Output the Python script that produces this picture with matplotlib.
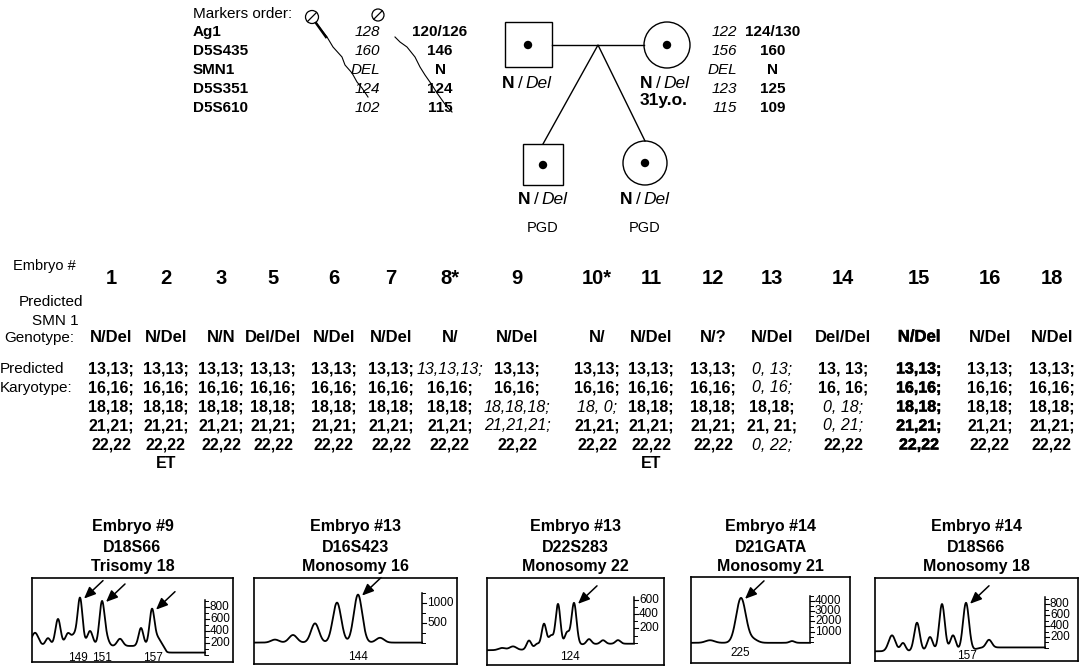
import numpy as np
import matplotlib.pyplot as plt
from matplotlib.patches import Rectangle, Circle
from matplotlib.transforms import offset_copy
import matplotlib.patheffects as pe

plt.rcParams['font.family'] = ['Liberation Sans', 'DejaVu Sans']

# ----------------------------
# DATA
# ----------------------------
markers = ["Ag1", "D5S435", "SMN1", "D5S351", "D5S610"]
father_a = ["128", "160", "DEL", "124", "102"]
father_b = ["120/126", "146", "N", "124", "115"]
mother_a = ["122", "156", "DEL", "123", "115"]
mother_b = ["124/130", "160", "N", "125", "109"]

embryos = ["1", "2", "3", "5", "6", "7", "8*", "9", "10*", "11", "12",
           "13", "14", "15", "16", "18"]
genotypes = ["N/Del", "N/Del", "N/N", "Del/Del", "N/Del", "N/Del", "N/",
             "N/Del", "N/", "N/Del", "N/?", "N/Del", "Del/Del", "N/Del",
             "N/Del", "N/Del"]
normal = ["13,13;", "16,16;", "18,18;", "21,21;", "22,22"]
karyotypes = [normal] * 6 + [
    ["13,13,13;", "16,16;", "18,18;", "21,21;", "22,22"],
    ["13,13;", "16,16;", "18,18,18;", "21,21,21;", "22,22"],
    ["13,13;", "16,16;", "18, 0;", "21,21;", "22,22"],
    normal,
    normal,
    ["0, 13;", "0, 16;", "18,18;", "21, 21;", "0, 22;"],
    ["13, 13;", "16, 16;", "0, 18;", "0, 21;", "22,22"],
    normal,
    normal,
    normal,
]
transferred = ["2", "11"]
heavy = ["15"]

# electropherograms: peaks are (scan position, height RFU, width)
panel_titles = [
    ["Embryo #9", "D18S66", "Trisomy 18"],
    ["Embryo #13", "D16S423", "Monosomy 16"],
    ["Embryo #13", "D22S283", "Monosomy 22"],
    ["Embryo #14", "D21GATA", "Monosomy 21"],
    ["Embryo #14", "D18S66", "Monosomy 18"],
]
panel_peaks = [
    [(3, 220, 3.5), (16, 130, 2.5), (26, 450, 2.6), (36, 210, 2.8), (42, 150, 2.4),
     (48, 800, 2.5), (58, 250, 2.8), (70, 740, 2.6), (75, 90, 2.4),
     (88, 120, 2.8), (109, 300, 2.4), (120, 610, 2.5), (126, 120, 2.8)],
    [(21, 75, 4), (39, 190, 4), (61, 480, 4), (83, 1000, 4.2), (104, 1200, 4.2),
     (126, 120, 4)],
    [(15, 30, 3.5), (26, 50, 3.5), (42, 125, 2.4), (50, 70, 2.4), (57, 340, 2.4),
     (64, 160, 2.4), (71, 590, 2.4), (80, 180, 2.4), (87, 580, 2.5), (102, 70, 2.4),
     (116, 50, 2.5), (131, 50, 2.5)],
    [(19, 250, 4.5), (50, 4350, 4.8), (62, 330, 4.5), (101, 170, 2.5)],
    [(17, 290, 3.4), (28, 150, 2.5), (42, 520, 2.8), (55, 260, 2.8),
     (67, 860, 2.8), (78, 290, 2.8), (91, 880, 3.0), (114, 140, 2.8)],
]
# baseline: left level, right level, step position, step width
panel_baseline = [
    (150, 40, 133, 2),
    (10, 10, 100, 10),
    (-100, -10, 70, 25),
    (-80, -80, 100, 10),
    (-60, 10, 100, 6),
]
panel_sizes = [
    [(46, "149"), (70, "151"), (121, "157")],
    [(104, "144")],
    [(83, "124")],
    [(49, "225")],
    [(92, "157")],
]
panel_arrows = [[48, 70, 120], [104], [87], [50], [91]]
panel_ticks = [
    (200, 100, 800, 920),
    (500, 250, 1000, 1250),
    (200, 100, 600, 640),
    (1000, 500, 4000, 4500),
    (200, 100, 800, 920),
]

# ----------------------------
# LAYOUT
# ----------------------------
W, H = 1080, 666
fig = plt.figure(figsize=(W / 100, H / 100), dpi=100)
ax = fig.add_axes([0, 0, 1, 1])
ax.set_xlim(0, W)
ax.set_ylim(H, 0)
ax.axis("off")
renderer = fig.canvas.get_renderer()

marker_y = [32, 51, 70, 89, 108]
col_x = [111, 166, 221, 273, 334, 391, 450, 517, 597, 651, 713, 772, 843,
         919, 990, 1052]
kary_y = [369, 388, 407, 426, 445]
boxes = [(32, 578, 233, 662), (254, 578, 457, 664), (487, 578, 664, 665),
         (691, 577, 850, 663), (875, 578, 1078, 661)]
ylims = [(-117, 1283), (-525, 1625), (-304, 897), (-2037, 6305), (-237, 1274)]
scale_x = [173, 168, 147, 119, 170]
size_y = [-50, -350, -193, -1067, -146]


def rich(x, y, parts, size):
    widths = []
    for s, style, weight, gap in parts:
        t = ax.text(0, 0, s, fontsize=size, fontstyle=style, fontweight=weight)
        widths.append(t.get_window_extent(renderer).width + gap)
        t.remove()
    x0 = x - sum(widths) / 2
    for (s, style, weight, gap), w in zip(parts, widths):
        ax.text(x0, y, s, fontsize=size, fontstyle=style, fontweight=weight,
                ha="left", va="center")
        x0 += w


def ndel(x, y, size=12.5):
    rich(x, y, [("N", "normal", "bold", 3), ("/", "normal", "normal", 3),
                ("Del", "italic", "normal", 0)], size)


# ----------------------------
# MARKER HAPLOTYPES
# ----------------------------
ax.text(193, 14, "Markers order:", fontsize=11, ha="left", va="center")
for i, m in enumerate(markers):
    y = marker_y[i]
    ax.text(193, y, m, fontsize=11, fontweight="bold", ha="left", va="center")
    ax.text(380, y, father_a[i], fontsize=11, fontstyle="italic",
            ha="right", va="center")
    ax.text(440, y, father_b[i], fontsize=11, fontweight="bold",
            ha="center", va="center")
    ax.text(737, y, mother_a[i], fontsize=11, fontstyle="italic",
            ha="right", va="center")
    ax.text(773, y, mother_b[i], fontsize=11, fontweight="bold",
            ha="center", va="center")

# recombination marks
for cx, cy, r in [(312, 17, 6.5), (378, 15, 6)]:
    ax.add_patch(Circle((cx, cy), r, fill=False, lw=0.9, color="black"))
    ax.plot([cx - r * 0.7, cx + r * 0.7], [cy + r * 0.7, cy - r * 0.7],
            color="black", lw=0.9)
ax.plot([316, 327, 333, 342, 345, 352, 357, 362, 368],
        [23, 37, 47, 57, 65, 73, 82, 88, 97], color="black", lw=0.8)
ax.plot([316, 326], [23, 37], color="black", lw=1.8)
ax.plot([395, 400, 407, 415, 420, 425, 432, 437, 442, 447, 452],
        [37, 42, 47, 57, 67, 75, 85, 93, 100, 107, 112], color="black", lw=0.8)

# ----------------------------
# PEDIGREE
# ----------------------------
lw = 1.0
ax.add_patch(Rectangle((505, 22), 47, 45, fill=False, lw=lw, color="black"))
ax.add_patch(Circle((667, 45), 23, fill=False, lw=lw, color="black"))
ax.plot([552, 644], [45, 45], color="black", lw=lw)
ax.plot([543, 598, 645], [144, 45, 141], color="black", lw=lw)
ax.add_patch(Rectangle((523, 144), 40, 41, fill=False, lw=lw, color="black"))
ax.add_patch(Circle((645, 163), 22, fill=False, lw=lw, color="black"))
for cx, cy in [(528, 45), (667, 45), (543, 165), (645, 163)]:
    ax.add_patch(Circle((cx, cy), 3.5, color="black"))
ndel(527, 83)
ndel(665, 83)
ax.text(664, 101, "31y.o.", fontsize=12.5, fontweight="bold",
        ha="center", va="center")
ndel(543, 200)
ndel(645, 200)
ax.text(543, 228, "PGD", fontsize=10.5, ha="center", va="center")
ax.text(645, 228, "PGD", fontsize=10.5, ha="center", va="center")

# ----------------------------
# EMBRYO TABLE
# ----------------------------
ax.text(44, 266, "Embryo #", fontsize=10.5, ha="center", va="center")
ax.text(51, 302, "Predicted", fontsize=11, ha="center", va="center")
ax.text(55, 321, "SMN 1", fontsize=11, ha="center", va="center")
ax.text(39, 338, "Genotype:", fontsize=11, ha="center", va="center")
ax.text(0, 369, "Predicted", fontsize=11, ha="left", va="center")
ax.text(0, 388, "Karyotype:", fontsize=11, ha="left", va="center")

for i, e in enumerate(embryos):
    x = col_x[i]
    fx = [pe.withStroke(linewidth=0.4, foreground="black")] if e in heavy else None
    ax.text(x, 278, e, fontsize=14.5, fontweight="bold", ha="center",
            va="center")
    ax.text(x, 337, genotypes[i], fontsize=12, fontweight="bold",
            ha="center", va="center", path_effects=fx)
    for j, k in enumerate(karyotypes[i]):
        nums = [n.strip() for n in k.strip(";").split(",")]
        odd = len(nums) != 2 or "0" in nums
        ax.text(x, kary_y[j], k, fontsize=11.5,
                fontweight="normal" if odd else "bold",
                fontstyle="italic" if odd else "normal",
                ha="center", va="center", path_effects=fx)
    if e in transferred:
        ax.text(x, 464, "ET", fontsize=11.5, fontweight="bold",
                ha="center", va="center")

# ----------------------------
# ELECTROPHEROGRAMS
# ----------------------------
for p in range(5):
    x0, y0, x1, y1 = boxes[p]
    cx = (x0 + x1) / 2
    for k, line in enumerate(panel_titles[p]):
        ax.text(cx, 527 + 20 * k, line, fontsize=11.5, fontweight="bold",
                ha="center", va="center")

    a = fig.add_axes([x0 / W, 1 - y1 / H, (x1 - x0) / W, (y1 - y0) / H])
    a.set_xlim(0, x1 - x0)
    a.set_ylim(*ylims[p])
    a.set_xticks([])
    a.set_yticks([])
    for s in a.spines.values():
        s.set_linewidth(1.2)

    left, right, pos, width = panel_baseline[p]
    xs = np.linspace(0, scale_x[p], 800)
    ys = right + (left - right) * 0.5 * (1 - np.tanh((xs - pos) / width))
    for c, h, s in panel_peaks[p]:
        ys = ys + h * np.exp(-0.5 * ((xs - c) / s) ** 2)
    a.plot(xs, ys, color="black", lw=1.3, clip_on=True)

    # intensity scale
    major, minor, lab_top, top = panel_ticks[p]
    sx = scale_x[p]
    a.plot([sx, sx], [0, top], color="black", lw=1.1)
    for v in np.arange(0, top + 1, minor):
        a.plot([sx, sx + 2.5], [v, v], color="black", lw=0.7)
    for v in np.arange(major, lab_top + 1, major):
        a.plot([sx, sx + 3.5], [v, v], color="black", lw=0.8)
        a.text(sx + 5, v, str(int(v)), fontsize=8.5, ha="left", va="center")

    for c, lab in panel_sizes[p]:
        a.text(c, size_y[p], lab, fontsize=8.5, ha="center", va="center")

    head = offset_copy(a.transData, fig=fig, x=4, y=-1, units="dots")
    for c in panel_arrows[p]:
        top_val = np.interp(c, xs, ys)
        a.annotate("", xy=(c, top_val), xycoords=head,
                   xytext=(19, 18), textcoords="offset pixels",
                   arrowprops=dict(arrowstyle="-|>,head_length=0.7,head_width=0.3",
                                   color="black", lw=1.1, shrinkA=0, shrinkB=0))

fig.savefig("out.png", dpi=100)
